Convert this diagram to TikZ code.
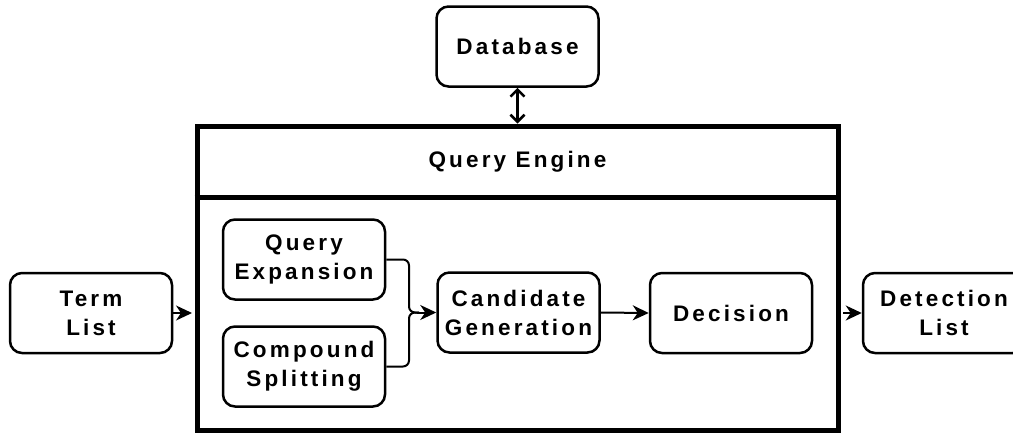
\documentclass[tikz,border=0pt]{standalone}
\usepackage{fontspec}
\setmainfont{Liberation Sans}[LetterSpace=14]
\usetikzlibrary{arrows.meta,calc}

\tikzset{
  stage/.style={draw, line width=2.5pt, rounded corners=12pt, align=center,
    minimum width=162pt, minimum height=80pt, inner sep=0pt,
    font=\fontsize{22.5}{29}\selectfont\bfseries},
  flow/.style={line width=2pt, -{Stealth[length=16pt, width=15pt, inset=5pt]}},
  link/.style={line width=2.5pt, {Straight Barb[length=7pt, width=14pt]}-{Straight Barb[length=7pt, width=14pt]}},
  frame/.style={draw, line width=5pt, inner sep=0pt},
}

\begin{document}
\begin{tikzpicture}[x=1pt, y=-1pt]
  \clip (0,0) rectangle (1013,432);

  % outer engine frame with its title band
  \node[frame, minimum width=641pt, minimum height=304pt] (engine) at (517.5,278) {};
  \draw[line width=5pt] (engine.west |- 0,197) -- (engine.east |- 0,197);
  \node[font=\fontsize{22.5}{29}\selectfont\bfseries] (title) at (517.5,161.5) {Query Engine};

  % boxes
  \node[stage] (db)  at (517.5,46.5) {Database};
  \node[stage] (tl)  at (91,313)     {Term\\List};
  \node[stage] (qx)  at (304,259.5)  {Query\\Expansion};
  \node[stage] (cs)  at (304,366.5)  {Compound\\Splitting};
  \node[stage] (cg)  at (518.5,312.5){Candidate\\Generation};
  \node[stage] (dec) at (731,313)    {Decision};
  \node[stage] (dl)  at (944,313)    {Detection\\List};

  % connectors
  \draw[link] (db.south) -- (db.south |- engine.north);
  \draw[flow, shorten >=2.5pt] (tl.east) -- (tl.east -| engine.west);
  \draw[flow, shorten <=2.5pt] (dl.west -| engine.east) -- (dl.west);

  \coordinate (j) at (409,312.5);
  \draw[line width=2pt, rounded corners=6pt] (qx.east) -| (j) -- ($(j)+(10,0)$);
  \draw[line width=2pt, rounded corners=6pt] (cs.east) -| (j) -- ($(j)+(10,0)$);
  \draw[flow] ($(j)+(8,0)$) -- (cg.west);
  \draw[flow] (cg.east) -- (dec.west);
\end{tikzpicture}
\end{document}
